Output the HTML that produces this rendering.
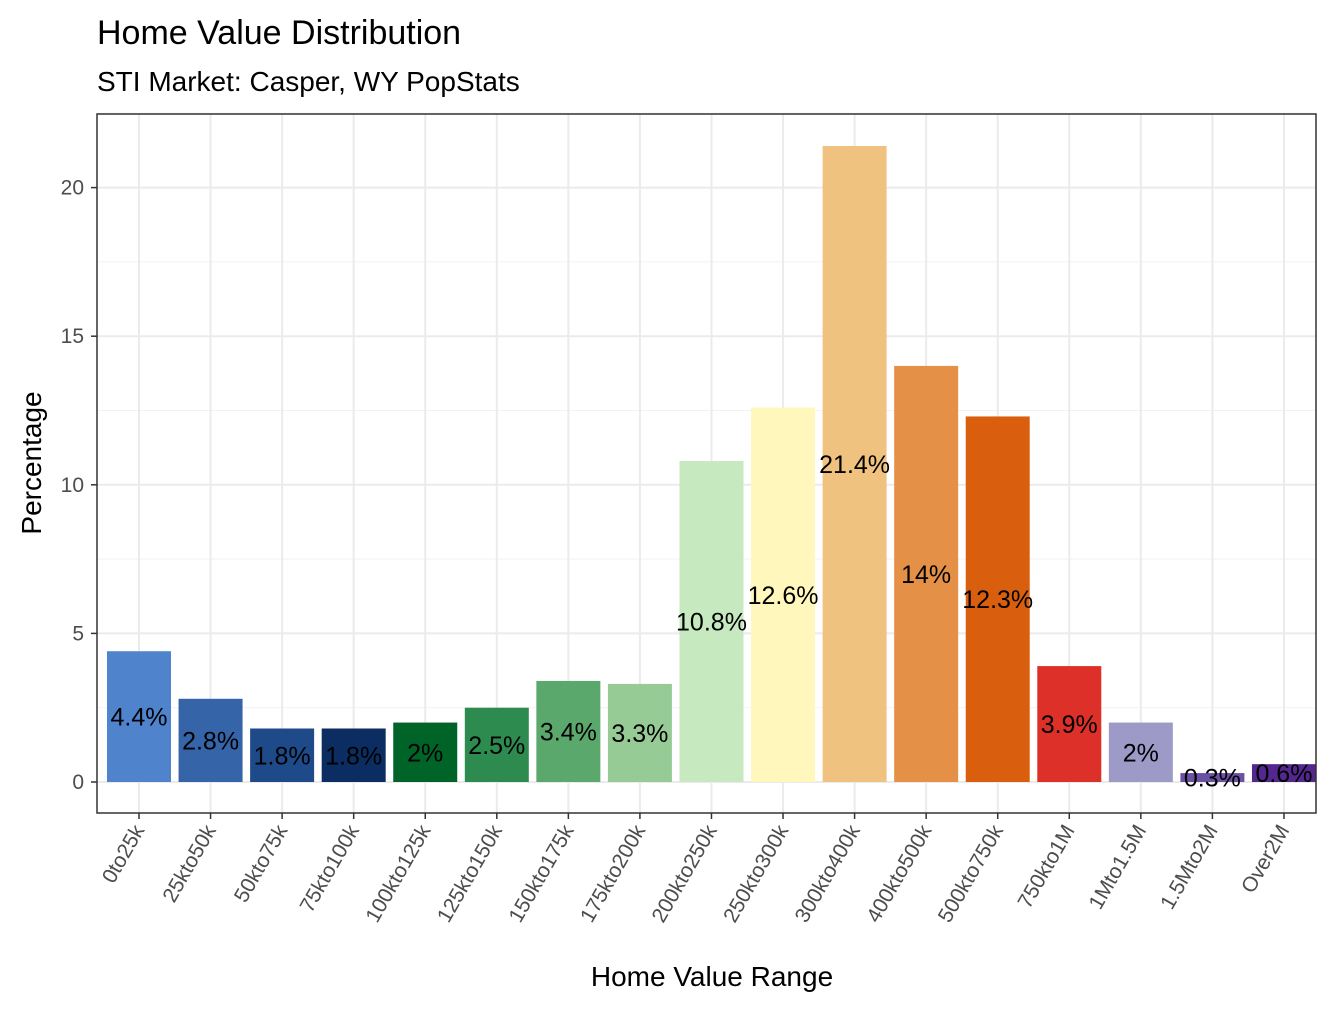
<!DOCTYPE html>
<html><head><meta charset="utf-8"><style>
body{margin:0;background:#fff;font-family:"Liberation Sans",Arial,sans-serif}
svg text{font-family:"Liberation Sans",Arial,sans-serif}
</style></head><body>
<svg id="chart" width="1344" height="1008" xmlns="http://www.w3.org/2000/svg">
<rect width="1344" height="1008" fill="#fff"/>
<text x="97" y="44" font-size="34" fill="#000">Home Value Distribution</text>
<text x="97" y="91" font-size="28" fill="#000">STI Market: Casper, WY PopStats</text>
<g id="grid"></g>
<g id="bars"></g>
<g id="labels"></g>
<rect x="97" y="114" width="1219" height="699" fill="none" stroke="#333" stroke-width="1.5"/>
<g id="axes"></g>
<text x="712" y="986" font-size="28" text-anchor="middle" fill="#000">Home Value Range</text>
<text transform="translate(41,463) rotate(-90)" font-size="28" text-anchor="middle" fill="#000">Percentage</text>
</svg>
<script>
const categories=["0to25k","25kto50k","50kto75k","75kto100k","100kto125k","125kto150k","150kto175k","175kto200k","200kto250k","250kto300k","300kto400k","400kto500k","500kto750k","750kto1M","1Mto1.5M","1.5Mto2M","Over2M"];
const values=[4.4,2.8,1.8,1.8,2,2.5,3.4,3.3,10.8,12.6,21.4,14,12.3,3.9,2,0.3,0.6];
const valueLabels=["4.4%","2.8%","1.8%","1.8%","2%","2.5%","3.4%","3.3%","10.8%","12.6%","21.4%","14%","12.3%","3.9%","2%","0.3%","0.6%"];
const colors=["#4F83CC","#3564A8","#1F4A8A","#0B2D62","#006428","#2E8B50","#5BA86C","#97CB95","#C7E9C0","#FFF7BC","#F0C27F","#E49046","#D95F0E","#DD3028","#9E9AC8","#6A51A3","#54278F"];
const yTicks=[0,5,10,15,20];
const NS="http://www.w3.org/2000/svg";
const y=v=>782-v*29.72;
const x=i=>139+i*71.56;
const bw=64;
function mk(tag,attrs,parent){const e=document.createElementNS(NS,tag);for(const k in attrs)e.setAttribute(k,attrs[k]);document.getElementById(parent).appendChild(e);return e;}
const grid="grid";
for(let t=2.5;t<=22.5;t+=5){const l=mk("line",{x1:97,x2:1316,y1:y(t),y2:y(t),stroke:"#f2f2f2","stroke-width":1},grid);

}
yTicks.forEach(t=>{const l=mk("line",{x1:97,x2:1316,y1:y(t),y2:y(t),stroke:"#ebebeb","stroke-width":2},grid);


const tk=mk("line",{x1:91,x2:97,y1:y(t),y2:y(t),stroke:"#333","stroke-width":1.5},"axes");


const tx=mk("text",{x:84,y:y(t)+7,"font-size":21,"text-anchor":"end",fill:"#4d4d4d"},"axes");
tx.textContent=t;

});
categories.forEach((c,i)=>{const l=mk("line",{x1:x(i),x2:x(i),y1:114,y2:813,stroke:"#ebebeb","stroke-width":2},grid);


const r=mk("rect",{x:x(i)-bw/2,y:y(values[i]),width:bw,height:y(0)-y(values[i]),fill:colors[i]},"bars");


const t=mk("text",{x:x(i),y:y(values[i]/2)+9,"font-size":25,"text-anchor":"middle",fill:"#000"},"labels");
t.textContent=valueLabels[i];


const tk=mk("line",{x1:x(i),x2:x(i),y1:813,y2:819,stroke:"#333","stroke-width":1.5},"axes");


const xt=mk("text",{transform:`translate(${x(i)+6},${830}) rotate(-60)`,"font-size":21,"text-anchor":"end",fill:"#4d4d4d"},"axes");
xt.textContent=c;

});
</script>
</body></html>
